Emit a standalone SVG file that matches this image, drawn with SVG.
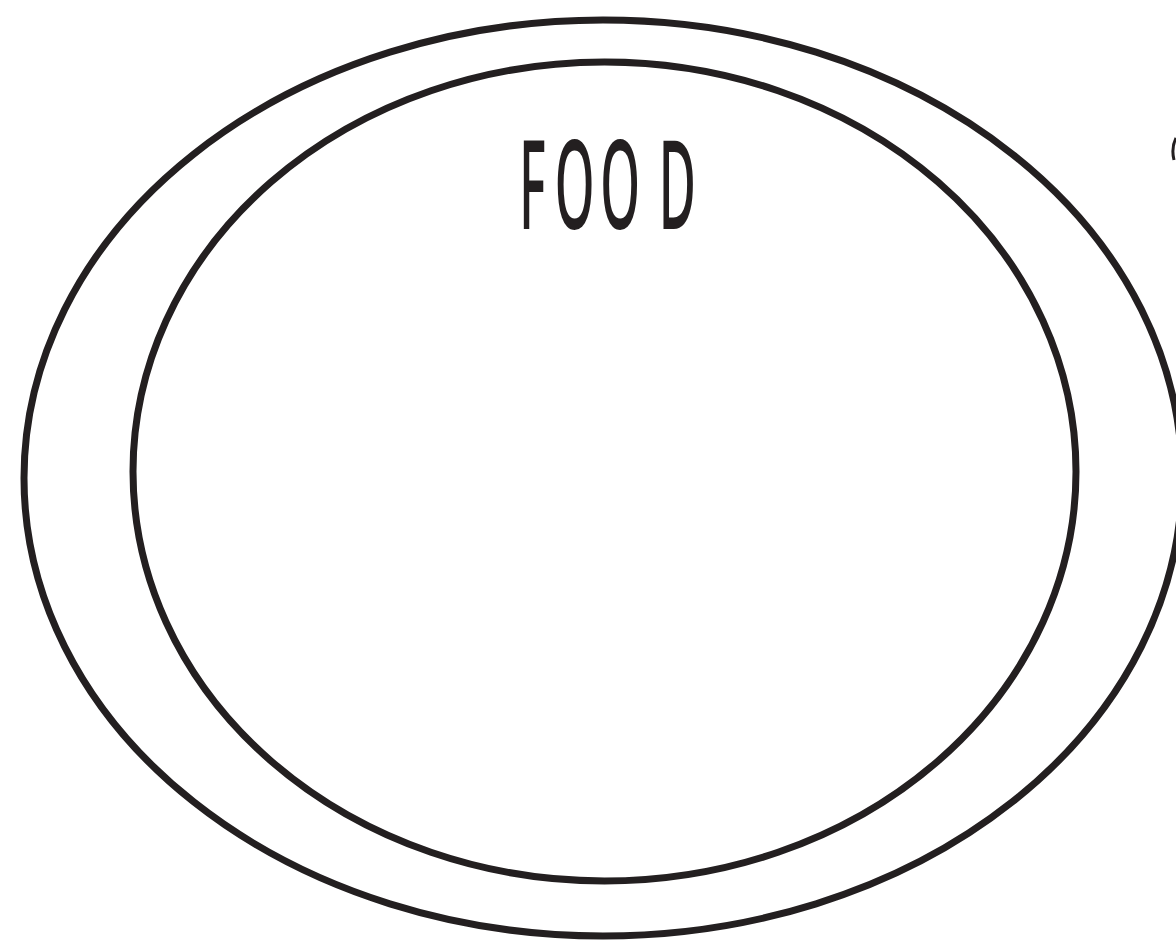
<svg xmlns="http://www.w3.org/2000/svg" width="1176" height="941" viewBox="0 0 1176 941">
<style>
.ring{fill:none;stroke:#231f20;stroke-width:7}
.lbl{font-family:"Noto Sans","Liberation Sans",sans-serif;font-weight:500;font-size:124px;fill:#231f20}
</style>
<rect width="1176" height="941" fill="#ffffff"/>
<g id="outer">
<ellipse class="ring" cx="603" cy="478" rx="579" ry="458"/>
</g>
<g id="inner">
<ellipse class="ring" cx="604.5" cy="471.5" rx="471.5" ry="409.5"/>
<g transform="translate(0,229) scale(0.41,1)">
<text class="lbl" y="0"><tspan x="1266">F</tspan><tspan x="1353">O</tspan><tspan x="1464">O</tspan><tspan x="1607">D</tspan></text>
</g>
</g>
<path d="M1176,138 Q1171,148 1174,160" fill="none" stroke="#231f20" stroke-width="3"/>
</svg>
